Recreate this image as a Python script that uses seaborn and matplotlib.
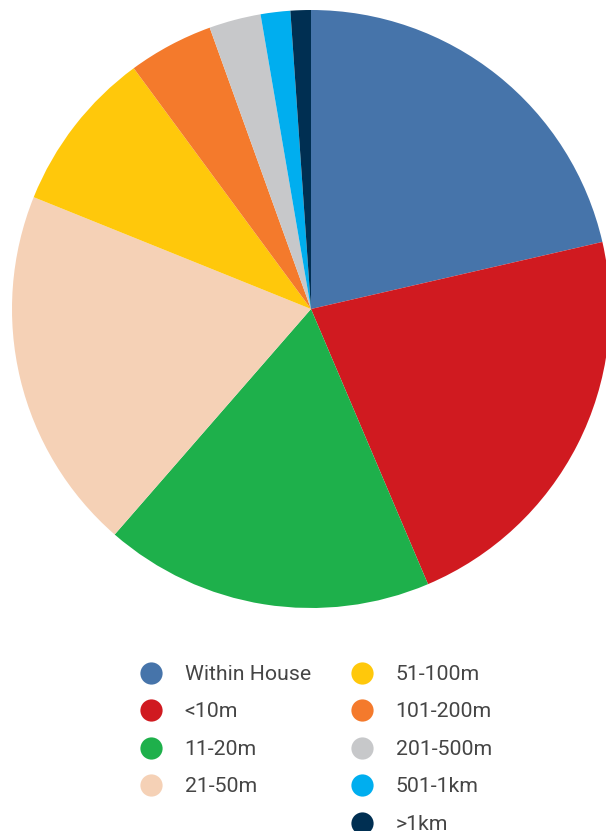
import matplotlib
matplotlib.use("Agg")
import matplotlib.pyplot as plt
from matplotlib.lines import Line2D
import seaborn as sns

# Share of responses by distance to water source (%)
categories = ["Within House", "<10m", "11-20m", "21-50m", "51-100m",
              "101-200m", "201-500m", "501-1km", ">1km"]
shares = [21.4, 22.2, 17.8, 19.7, 8.8, 4.6, 2.8, 1.6, 1.1]
colors = ["#4674AA", "#D01A20", "#1EB04B", "#F5D1B6", "#FFC80B",
          "#F47A2C", "#C7C8CA", "#00AEEF", "#002F52"]

sns.set_theme(style="white")
plt.rcParams["font.family"] = ["Roboto", "DejaVu Sans"]

W, H = 606, 831
fig = plt.figure(figsize=(W / 100, H / 100), dpi=100)
ax = fig.add_axes([0, 0, 1, 1])
ax.axis("off")

ax.pie(shares, colors=colors, startangle=90, counterclock=False,
       radius=1.0, wedgeprops=dict(linewidth=0))

# Pie centre sits at pixel (311, 309) with a 299 px radius
cx, cy, r = 311, 309, 299
ax.set_xlim(-cx / r, (W - cx) / r)
ax.set_ylim(-(H - cy) / r, cy / r)
ax.set_aspect("auto")

def handles(idx):
    return [Line2D([], [], marker="o", linestyle="", markersize=16,
                   markerfacecolor=colors[i], markeredgewidth=0)
            for i in idx]

common = dict(frameon=False, handlelength=1.0,
              handletextpad=1.1, labelspacing=0.87, borderaxespad=0,
              borderpad=0, loc="upper left", labelcolor="#454545",
              prop=dict(family=["Roboto", "DejaVu Sans"], size=15.3))

left = [0, 1, 2, 3]
right = [4, 5, 6, 7, 8]
leg1 = fig.legend(handles(left), [categories[i] for i in left],
                  bbox_to_anchor=(140 / W, 1 - 665 / H), **common)
leg2 = fig.legend(handles(right), [categories[i] for i in right],
                  bbox_to_anchor=(351 / W, 1 - 665 / H), **common)

fig.savefig("out.png", dpi=100)
